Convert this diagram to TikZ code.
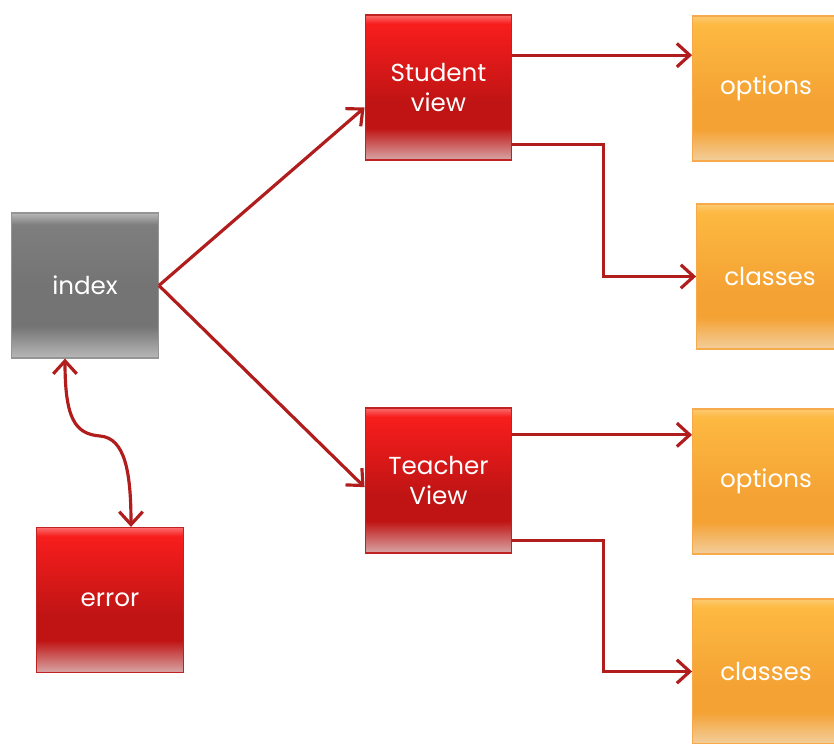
\documentclass[tikz,border=0pt]{standalone}
\usepackage{fontspec}
\setmainfont{Poppins}
\usetikzlibrary{calc,positioning,arrows.meta}

\definecolor{redtop}{HTML}{F81D1D}
\definecolor{reddark}{HTML}{C01414}
\definecolor{redfade}{HTML}{D8A6A6}
\definecolor{redline}{HTML}{C02222}
\definecolor{graytop}{HTML}{7E7E7E}
\definecolor{graydark}{HTML}{747474}
\definecolor{grayfade}{HTML}{B8B8B8}
\definecolor{grayline}{HTML}{959595}
\definecolor{orgtop}{HTML}{FDB941}
\definecolor{orgdark}{HTML}{F4A234}
\definecolor{orgfade}{HTML}{F3CE9C}
\definecolor{orgline}{HTML}{F6AA4C}
\definecolor{arrowred}{HTML}{B11C1C}

\pgfdeclareverticalshading{redglow}{100bp}{color(0bp)=(redfade); color(25bp)=(redfade); color(36bp)=(reddark); color(45bp)=(reddark); color(72bp)=(redtop); color(75bp)=(redtop!65!white); color(100bp)=(redtop!65!white)}
\pgfdeclareverticalshading{grayglow}{100bp}{color(0bp)=(grayfade); color(25bp)=(grayfade); color(36bp)=(graydark); color(50bp)=(graydark); color(71bp)=(graytop); color(75bp)=(grayfade); color(100bp)=(grayfade)}
\pgfdeclareverticalshading{orgglow}{100bp}{color(0bp)=(orgfade); color(25bp)=(orgfade); color(36bp)=(orgdark); color(45bp)=(orgdark); color(72bp)=(orgtop); color(75bp)=(orgtop!75!white); color(100bp)=(orgtop!75!white)}

\begin{document}
\begin{tikzpicture}[x=0.03cm,y=-0.03cm,
  box/.style={rectangle,minimum width=4.4cm,minimum height=4.35cm,inner sep=0pt,text=white,align=center,font=\fontsize{21}{25}\selectfont,line width=1pt},
  redbox/.style={box,shading=redglow,draw=redline},
  graybox/.style={box,shading=grayglow,draw=grayline},
  orgbox/.style={box,shading=orgglow,draw=orgline},
  link/.style={draw=arrowred,line width=2.7pt,-{Straight Barb[length=11pt,width=20pt]}},
  both/.style={link,{Straight Barb[length=11pt,width=20pt]}-{Straight Barb[length=11pt,width=20pt]}}]
  \useasboundingbox (0,0) rectangle (834,743);
  \node[graybox] (index) at (85,285.5) {index};
  \node[redbox] (error) at (110,600) {error};
  \node[redbox] (student) at (438.5,87.5) {Student\\view};
  \node[redbox] (teacher) at (438.5,480.5) {Teacher\\View};

  \node[orgbox] (opt1) at (766,88.5) {options};
  \node[orgbox] (cls1) at (770,276.5) {classes};
  \node[orgbox] (opt2) at (766,481.5) {options};
  \node[orgbox] (cls2) at (766,671.5) {classes};

  \coordinate (bend) at (100,436);
  \coordinate (s1) at ([yshift=0.97cm]student.east);
  \coordinate (t1) at ([yshift=1.37cm]teacher.east);
  \draw[link] (index.east) -- ([yshift=-0.6cm]student.west);
  \draw[link] (index.east) -- ([yshift=-0.2cm]teacher.west);
  \draw[link] (s1) -- (opt1.west |- s1);
  \draw[link] ([yshift=-1.72cm]student.east) -- ++(91,0) |- (cls1.west);
  \draw[link] (t1) -- (opt2.west |- t1);
  \draw[link] ([yshift=-1.8cm]teacher.east) -- ++(91,0) |- (cls2.west);
  \draw[both] ([xshift=-0.6cm]index.south) .. controls +(0,60) and +(-25,-2) .. (bend)
    .. controls +(25,2) and +(0,-55) .. ([xshift=0.63cm]error.north);
\end{tikzpicture}
\end{document}
